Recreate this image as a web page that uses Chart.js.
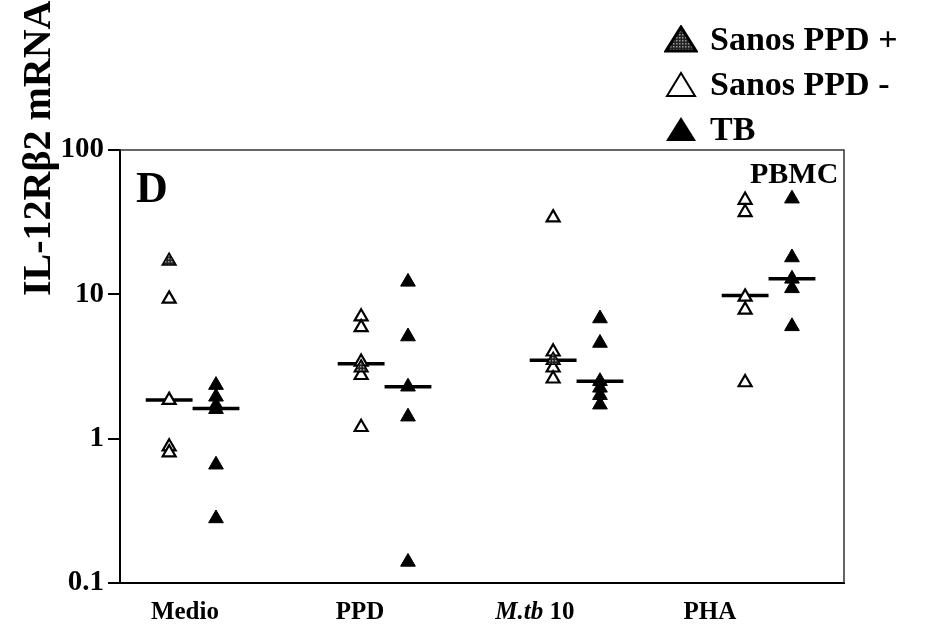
<!DOCTYPE html>
<html lang="es">
<head>
<meta charset="UTF-8">
<script src="https://cdn.jsdelivr.net/npm/chart.js"></script>
<title>IL-12Rβ2 mRNA PBMC</title>
<style>
    body { margin: 0; background: #fff; }
    .wrap { position: relative; width: 927px; height: 632px; font-family: 'Liberation Serif', 'DejaVu Serif', serif; font-weight: bold; color: #000; }
    #grafico { position: absolute; left: 0; top: 0; }
    .titulo-y { position: absolute; left: 37px; top: 296px; font-size: 40px; line-height: 1; white-space: nowrap;
        transform-origin: 0 0; transform: rotate(-90deg) translate(0, -50%); }
    .letra { position: absolute; left: 136px; top: 166px; font-size: 44px; line-height: 1; }
    .pbmc { position: absolute; left: 750px; top: 158px; font-size: 30px; line-height: 1; }
    .leyenda { position: absolute; left: 664px; top: 16px; font-size: 34px; line-height: 1; }
    .leyenda div { display: flex; align-items: center; height: 45px; }
    .leyenda svg { margin-right: 12px; }
</style>
</head>
<body>
<div class="wrap">
    <canvas id="grafico" width="927" height="632"></canvas>
    <div class="titulo-y">IL-12Rβ2 mRNA</div>
    <div class="letra">D</div>
    <div class="pbmc">PBMC</div>
    <div class="leyenda">
        <div>
            <svg width="34" height="28" viewBox="0 0 34 28">
                <defs>
                    <pattern id="trama" width="3" height="3" patternUnits="userSpaceOnUse">
                        <rect width="3" height="3" fill="#222"/>
                        <rect width="1.5" height="1.5" fill="#999"/>
                    </pattern>
                </defs>
                <polygon points="17,2 32,26 2,26" fill="url(#trama)" stroke="#000" stroke-width="3"/>
            </svg>
            <span>Sanos PPD +</span>
        </div>
        <div>
            <svg width="34" height="28" viewBox="0 0 34 28">
                <polygon points="17,3 31,26 3,26" fill="#fff" stroke="#000" stroke-width="2"/>
            </svg>
            <span>Sanos PPD -</span>
        </div>
        <div>
            <svg width="34" height="28" viewBox="0 0 34 28">
                <polygon points="17,2 32,26 2,26" fill="#000"/>
            </svg>
            <span>TB</span>
        </div>
    </div>
</div>

<script>
    // categorias del eje x
    const categorias = ['Medio', 'PPD', 'M.tb 10', 'PHA'];
    const parteItalica = 'M.tb';

    // valores (uno por sujeto), por estimulo
    const sanosPPDpos = [[17], [3.1], [3.5], []];
    const sanosPPDneg = [[9.3, 1.85, 0.88, 0.8], [7.0, 5.9, 3.4, 2.75, 1.2], [34, 4.0, 3.1, 2.6], [45, 37, 9.6, 7.8, 2.45]];
    const tb = [[2.35, 1.95, 1.7, 1.6, 0.66, 0.28], [12.2, 5.1, 2.29, 1.42, 0.14], [6.8, 4.6, 2.5, 2.25, 2.0, 1.72], [46, 18, 12.8, 11, 6.0]];

    // medianas (lineas horizontales)
    const medianaSanos = [1.85, 3.3, 3.5, 9.8];
    const medianaTB = [1.62, 2.29, 2.5, 12.8];

    const ticksY = [0.1, 1, 10, 100];

    const desplaz = 0.122;

    function puntos(grupos, lado) {
        const out = [];
        grupos.forEach((vals, i) => vals.forEach(v => out.push({ x: i + lado * desplaz, y: v })));
        return out;
    }

    function segmentos(meds, lado) {
        const out = [];
        meds.forEach((v, i) => {
            const c = i + lado * desplaz;
            out.push({ x: c - desplaz, y: v }, { x: c + desplaz, y: v }, { x: c, y: null });
        });
        return out;
    }

    // trama para los sanos PPD+
    const pc = document.createElement('canvas');
    pc.width = 3; pc.height = 3;
    const pctx = pc.getContext('2d');
    pctx.fillStyle = '#222'; pctx.fillRect(0, 0, 3, 3);
    pctx.fillStyle = '#999'; pctx.fillRect(0, 0, 1.5, 1.5);
    const trama = document.getElementById('grafico').getContext('2d').createPattern(pc, 'repeat');

    const marcoYetiquetas = {
        id: 'marcoYetiquetas',
        afterDraw(chart) {
            const { ctx, chartArea: a } = chart;
            ctx.save();
            ctx.strokeStyle = '#333';
            ctx.lineWidth = 1.5;
            ctx.beginPath();
            ctx.moveTo(a.left, a.top);
            ctx.lineTo(a.right, a.top);
            ctx.lineTo(a.right, a.bottom);
            ctx.stroke();

            const sx = chart.scales.xl;
            ctx.fillStyle = '#000';
            ctx.textBaseline = 'alphabetic';
            const normal = "bold 25px 'Liberation Serif', serif";
            const italica = "italic bold 25px 'Liberation Serif', serif";
            categorias.forEach((lab, i) => {
                let partes = [[lab, normal]];
                if (lab.startsWith(parteItalica)) {
                    partes = [[parteItalica, italica], [lab.slice(parteItalica.length), normal]];
                }
                let total = 0;
                partes.forEach(p => { ctx.font = p[1]; total += ctx.measureText(p[0]).width; });
                let x = sx.getPixelForValue(i) - total / 2;
                partes.forEach(p => {
                    ctx.font = p[1];
                    ctx.fillText(p[0], x, a.bottom + 36);
                    x += ctx.measureText(p[0]).width;
                });
            });
            ctx.restore();
        }
    };

    Chart.defaults.font.family = "'Liberation Serif', 'DejaVu Serif', serif";
    Chart.defaults.color = '#000';

    new Chart(document.getElementById('grafico'), {
        type: 'scatter',
        data: {
            datasets: [
                {
                    label: 'Sanos PPD +',
                    data: puntos(sanosPPDpos, -1),
                    pointStyle: 'triangle',
                    pointRadius: 8,
                    backgroundColor: trama,
                    borderColor: '#000',
                    borderWidth: 1.5
                },
                {
                    label: 'Sanos PPD -',
                    data: puntos(sanosPPDneg, -1),
                    pointStyle: 'triangle',
                    pointRadius: 7.5,
                    backgroundColor: '#fff',
                    borderColor: '#000',
                    borderWidth: 2.2
                },
                {
                    label: 'TB',
                    data: puntos(tb, 1),
                    pointStyle: 'triangle',
                    pointRadius: 8.5,
                    backgroundColor: '#000',
                    borderColor: '#000',
                    borderWidth: 1
                },
                {
                    label: 'Mediana sanos',
                    type: 'line',
                    data: segmentos(medianaSanos, -1),
                    borderColor: '#000',
                    borderWidth: 3.5,
                    pointRadius: 0,
                    spanGaps: false
                },
                {
                    label: 'Mediana TB',
                    type: 'line',
                    data: segmentos(medianaTB, 1),
                    borderColor: '#000',
                    borderWidth: 3.5,
                    pointRadius: 0,
                    spanGaps: false
                }
            ]
        },
        options: {
            responsive: false,
            animation: false,
            layout: { padding: { top: 150, right: 83, left: 0, bottom: 0 } },
            plugins: { legend: { display: false }, tooltip: { enabled: false } },
            scales: {
                x: {
                    type: 'linear',
                    min: -0.378,
                    max: 3.393,
                    grid: { display: false },
                    ticks: { display: false },
                    border: { color: '#000', width: 2 },
                    afterFit(scale) { scale.height = 49; }
                },
                xl: {
                    type: 'linear',
                    position: 'bottom',
                    display: false,
                    min: -0.371,
                    max: 3.766
                },
                y: {
                    type: 'logarithmic',
                    min: 0.1,
                    max: 100,
                    afterBuildTicks(scale) { scale.ticks = ticksY.map(v => ({ value: v })); },
                    grid: { drawOnChartArea: false, drawTicks: true, tickLength: 12, color: '#000', lineWidth: 2 },
                    border: { color: '#000', width: 2 },
                    ticks: {
                        padding: 4,
                        font: { size: 29, weight: 'bold' },
                        callback: v => String(v)
                    },
                    afterFit(scale) { scale.width = 120; }
                }
            }
        },
        plugins: [marcoYetiquetas]
    });
</script>
</body>
</html>
